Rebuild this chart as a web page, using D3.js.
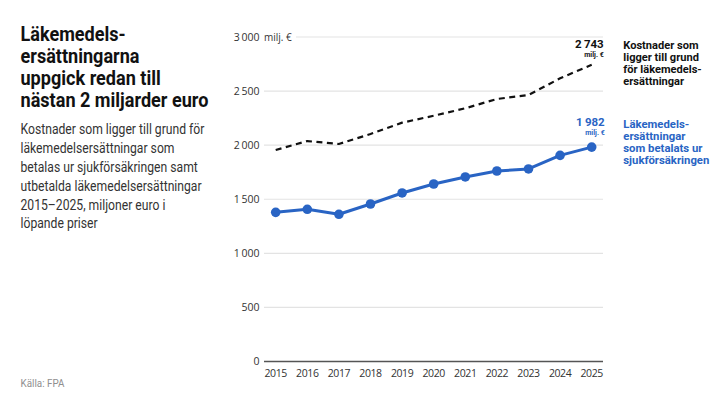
<!DOCTYPE html>
<html><head><meta charset="utf-8">
<script src="https://cdn.jsdelivr.net/npm/d3@7"></script>
<style>
body{margin:0;background:#fff;}
svg{display:block;}
</style>
</head><body>
<svg id="c" width="720" height="405"></svg>
<script>
const years = [2015,2016,2017,2018,2019,2020,2021,2022,2023,2024,2025];
const paid = [1379,1407,1361,1456,1558,1641,1706,1761,1780,1906,1982];
const costs = [1955,2038,2011,2103,2208,2272,2341,2427,2464,2618,2743];
const yTicks = [0,500,1000,1500,2000,2500,3000];
const yTickLabels = ["0","500","1\u2009000","1\u2009500","2\u2009000","2\u2009500","3\u2009000"];
const titleLines = ["Läkemedels-","ersättningarna","uppgick redan till","nästan 2 miljarder euro"];
const subLines = ["Kostnader som ligger till grund för","läkemedelsersättningar som","betalas ur sjukförsäkringen samt","utbetalda läkemedelsersättningar","2015–2025, miljoner euro i","löpande priser"];
const costLegend = ["Kostnader som","ligger till grund","för läkemedels-","ersättningar"];
const paidLegend = ["Läkemedels-","ersättningar","som betalats ur","sjukförsäkringen"];
const blue = "#2964c4";

const svg = d3.select("#c");
const font = 'Roboto,"Noto Sans",sans-serif';
const axisFont = '"Open Sans","Noto Sans",sans-serif';

// squeeze a block of text horizontally so its widest line has the given width
function fit(g, x0, target){
  let mx = 0;
  g.selectAll("text").each(function(){ mx = Math.max(mx, this.getComputedTextLength()); });
  const s = target / mx;
  g.attr("transform", `translate(${x0},0) scale(${s},1) translate(${-x0},0)`);
}
function block(lines, x0, y0, dy, size, weight, color, target){
  const g = svg.append("g");
  g.selectAll("text").data(lines).join("text")
    .attr("x",x0).attr("y",(d,i)=>y0+i*dy)
    .attr("font-family",font).attr("font-weight",weight).attr("font-size",size)
    .attr("fill",color).text(d=>d);
  fit(g, x0, target);
  return g;
}

block(titleLines, 20.5, 40.8, 22, 19.5, "bold", "#111", 188);
block(subLines, 20.5, 134, 18.9, 14, "normal", "#333", 184);
block(["Källa: FPA"], 20.5, 387.3, 0, 10.5, "normal", "#8f8f8f", 44);

const x = d3.scalePoint().domain(years).range([275.7,591.7]);
const y = d3.scaleLinear().domain([0,3000]).range([361.5,37]);
const gridL = 264, gridR = 603;

// gridlines
svg.append("g").selectAll("line").data(yTicks.filter(d=>d>0)).join("line")
  .attr("x1",d=>d===3000?296:gridL).attr("x2",gridR)
  .attr("y1",d=>y(d)).attr("y2",d=>y(d))
  .attr("stroke","#e3e3e3").attr("stroke-width",1.2);
svg.append("line").attr("x1",gridL).attr("x2",gridR).attr("y1",y(0)).attr("y2",y(0))
  .attr("stroke","#555").attr("stroke-width",1.5);

// y labels
svg.append("g").selectAll("text").data(yTicks).join("text")
  .attr("x",259.5).attr("y",d=>y(d)+3.8)
  .attr("text-anchor","end").attr("font-family",axisFont).attr("font-size",10.5)
  .attr("fill","#333").text((d,i)=>yTickLabels[i]);
svg.append("text").attr("x",264).attr("y",y(3000)+3.8).attr("font-family",axisFont)
  .attr("font-size",10).attr("fill","#333").text("milj. €");

// x labels
svg.append("g").selectAll("text").data(years).join("text")
  .attr("x",d=>x(d)).attr("y",377).attr("text-anchor","middle")
  .attr("font-family",axisFont).attr("font-size",10.5).attr("letter-spacing","-0.4")
  .attr("fill","#333").text(d=>d);

// lines
const line = d3.line().x((d,i)=>x(years[i])).y(d=>y(d));
svg.append("path").datum(costs).attr("d",line).attr("fill","none")
  .attr("stroke","#111").attr("stroke-width",2.2).attr("stroke-dasharray","6,4.5");
svg.append("path").datum(paid).attr("d",line).attr("fill","none")
  .attr("stroke",blue).attr("stroke-width",3).attr("stroke-linejoin","round");
svg.append("g").selectAll("circle").data(paid).join("circle")
  .attr("cx",(d,i)=>x(years[i])).attr("cy",d=>y(d)).attr("r",4.8).attr("fill",blue);

// end labels
const fmt = v => { const s=String(v); return s.slice(0,s.length-3)+"\u2009"+s.slice(-3); };
const lastX = x(years[years.length-1]) + 12;
const cLast = costs[costs.length-1], pLast = paid[paid.length-1];
svg.append("text").attr("x",lastX).attr("y",y(cLast)-16.3)
  .attr("text-anchor","end").attr("font-family",font).attr("font-weight","bold")
  .attr("font-size",11.5).attr("fill","#111").text(fmt(cLast));
svg.append("text").attr("x",lastX).attr("y",y(cLast)-8)
  .attr("text-anchor","end").attr("font-family",font).attr("font-weight","bold")
  .attr("font-size",7).attr("fill","#111").text("milj. €");
svg.append("text").attr("x",lastX+1).attr("y",y(pLast)-21)
  .attr("text-anchor","end").attr("font-family",font).attr("font-weight","bold")
  .attr("font-size",11.5).attr("fill",blue).text(fmt(pLast));
svg.append("text").attr("x",lastX+1).attr("y",y(pLast)-12)
  .attr("text-anchor","end").attr("font-family",font).attr("font-weight","bold")
  .attr("font-size",7).attr("fill",blue).text("milj. €");

// legends
block(costLegend, 623.3, 49.5, 11.8, 11.2, "bold", "#111", 78.5);
block(paidLegend, 623.3, 128.5, 11.8, 11.2, "bold", blue, 86);
</script>
</body></html>
